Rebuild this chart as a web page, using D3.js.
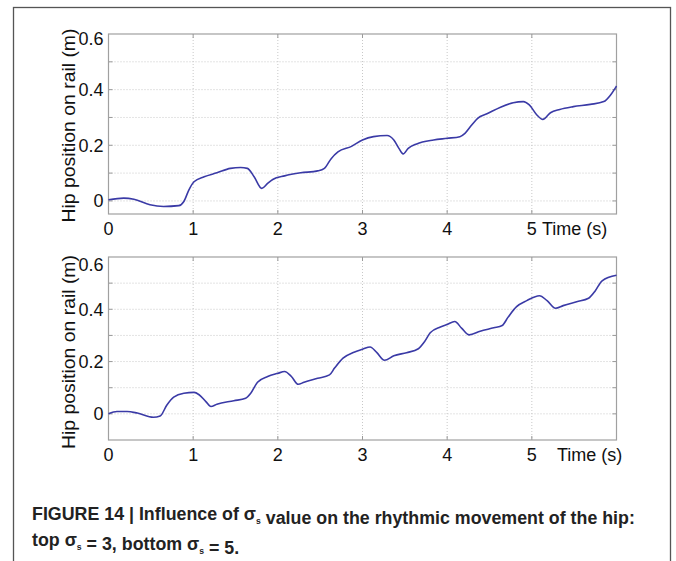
<!DOCTYPE html>
<html>
<head>
<meta charset="utf-8">
<script src="https://cdn.jsdelivr.net/npm/d3@7"></script>
<style>
  body { margin: 0; background: #fff; }
  svg { display: block; }
  text { font-family: Arial, "Liberation Sans", Helvetica, sans-serif; }
</style>
</head>
<body>
<svg id="chart" width="676" height="561"></svg>
<script>
// ---- data ----
const topTime = [0, 0.18, 0.3, 0.49, 0.65, 0.83, 0.89, 0.95, 1.01, 1.13, 1.28, 1.44, 1.56, 1.64, 1.72, 1.81, 1.88, 1.94, 2.08, 2.27, 2.47, 2.55, 2.63, 2.71, 2.87, 3.0, 3.13, 3.29, 3.37, 3.43, 3.48, 3.54, 3.64, 3.84, 4.0, 4.15, 4.21, 4.29, 4.36, 4.47, 4.63, 4.78, 4.90, 4.97, 5.06, 5.13, 5.22, 5.33, 5.49, 5.69, 5.85, 5.93, 6.0];
const topPos  = [0.004, 0.01, 0.006, -0.014, -0.02, -0.017, -0.002, 0.04, 0.069, 0.087, 0.101, 0.117, 0.12, 0.117, 0.087, 0.045, 0.063, 0.077, 0.09, 0.101, 0.108, 0.117, 0.152, 0.176, 0.196, 0.219, 0.231, 0.235, 0.219, 0.189, 0.169, 0.189, 0.205, 0.219, 0.225, 0.231, 0.243, 0.273, 0.297, 0.313, 0.337, 0.353, 0.357, 0.345, 0.309, 0.293, 0.317, 0.329, 0.339, 0.347, 0.357, 0.381, 0.413];
const botTime = [0, 0.1, 0.22, 0.34, 0.53, 0.61, 0.69, 0.77, 0.89, 1.01, 1.07, 1.15, 1.21, 1.28, 1.48, 1.62, 1.68, 1.76, 1.88, 2.0, 2.08, 2.16, 2.24, 2.31, 2.47, 2.61, 2.67, 2.77, 2.90, 3.0, 3.09, 3.17, 3.26, 3.37, 3.52, 3.66, 3.73, 3.80, 3.92, 4.0, 4.09, 4.17, 4.26, 4.39, 4.55, 4.65, 4.72, 4.82, 4.94, 5.09, 5.18, 5.28, 5.37, 5.53, 5.67, 5.75, 5.83, 6.0];
const botPos  = [0, 0.009, 0.009, 0.003, -0.013, -0.008, 0.034, 0.064, 0.079, 0.082, 0.073, 0.047, 0.028, 0.037, 0.05, 0.06, 0.079, 0.121, 0.143, 0.155, 0.162, 0.143, 0.113, 0.121, 0.136, 0.149, 0.175, 0.213, 0.236, 0.247, 0.256, 0.234, 0.205, 0.222, 0.234, 0.249, 0.275, 0.310, 0.332, 0.342, 0.353, 0.328, 0.302, 0.316, 0.329, 0.338, 0.370, 0.410, 0.433, 0.452, 0.433, 0.404, 0.414, 0.429, 0.442, 0.471, 0.509, 0.530];

const xTickValues = [0, 1, 2, 3, 4, 5];
const xTickLabels = ["0", "1", "2", "3", "4", "5"];
const yGridValues = [0, 0.1, 0.2, 0.3, 0.4, 0.5, 0.6];
const yTickValues = [0, 0.2, 0.4, 0.6];
const yTickLabels = ["0", "0.2", "0.4", "0.6"];
const yLabelText = "Hip position on rail (m)";
const xLabelText = "Time (s)";
const captionLine1 = [["FIGURE 14 | Influence of σ", false], ["s", true], [" value on the rhythmic movement of the hip:", false]];
const captionLine2 = [["top σ", false], ["s", true], [" = 3, bottom σ", false], ["s", true], [" = 5.", false]];

const svg = d3.select("#chart");

// outer frame
svg.append("rect")
  .attr("x", 13.5).attr("y", 7.5).attr("width", 657).attr("height", 600)
  .attr("fill", "none").attr("stroke", "#555").attr("stroke-width", 1.3);

function panel(opts) {
  const {left, right, top, bottom, yMin, time, pos, timeLabelX, topLabelDy, labelCenter} = opts;
  const x = d3.scaleLinear().domain([0, 6]).range([left, right]);
  const y = d3.scaleLinear().domain([yMin, 0.6]).range([bottom, top]);
  const g = svg.append("g");

  // grid
  g.selectAll(".vg").data(xTickValues.slice(1)).enter().append("line")
    .attr("x1", d => x(d)).attr("x2", d => x(d)).attr("y1", top).attr("y2", bottom)
    .attr("stroke", "#c8c8c8").attr("stroke-width", 1).attr("stroke-dasharray", "1,2");
  g.selectAll(".hg").data(yGridValues.filter(v => v < 0.6 && v > yMin)).enter().append("line")
    .attr("x1", left).attr("x2", right).attr("y1", d => y(d)).attr("y2", d => y(d))
    .attr("stroke", "#c8c8c8").attr("stroke-width", 1).attr("stroke-dasharray", "1,2");

  // inner ticks
  const tl = 4;
  xTickValues.slice(1).forEach(v => {
    g.append("line").attr("x1", x(v)).attr("x2", x(v)).attr("y1", bottom).attr("y2", bottom - tl).attr("stroke", "#999");
    g.append("line").attr("x1", x(v)).attr("x2", x(v)).attr("y1", top).attr("y2", top + tl).attr("stroke", "#999");
  });
  yGridValues.filter(v => v < 0.6 && v > yMin).forEach(v => {
    g.append("line").attr("x1", left).attr("x2", left + tl).attr("y1", y(v)).attr("y2", y(v)).attr("stroke", "#999");
    g.append("line").attr("x1", right).attr("x2", right - tl).attr("y1", y(v)).attr("y2", y(v)).attr("stroke", "#999");
  });

  // box
  g.append("rect").attr("x", left).attr("y", top).attr("width", right - left).attr("height", bottom - top)
    .attr("fill", "none").attr("stroke", "#a0a0a0").attr("stroke-width", 1.2);

  // line
  const data = time.map((t, i) => [t, pos[i]]);
  g.append("path").datum(data)
    .attr("d", d3.line().x(d => x(d[0])).y(d => y(d[1])).curve(d3.curveMonotoneX))
    .attr("fill", "none").attr("stroke", "#3a3aa6").attr("stroke-width", 1.6);

  // tick labels
  g.selectAll(".xl").data(xTickValues).enter().append("text")
    .attr("x", d => x(d)).attr("y", bottom + 21)
    .attr("text-anchor", "middle").attr("font-size", 18).attr("fill", "#111")
    .text((d, i) => xTickLabels[i]);
  g.selectAll(".yl").data(yTickValues).enter().append("text")
    .attr("x", left - 5).attr("y", d => y(d) + (d === 0.6 ? topLabelDy : 0))
    .attr("dy", "0.35em")
    .attr("text-anchor", "end").attr("font-size", 18).attr("fill", "#111")
    .text((d, i) => yTickLabels[i]);

  // axis labels
  g.append("text").attr("x", timeLabelX).attr("y", bottom + 21)
    .attr("font-size", 18).attr("fill", "#111").text(xLabelText);
  g.append("text")
    .attr("transform", `translate(75,${labelCenter}) rotate(-90)`)
    .attr("text-anchor", "middle").attr("font-size", 18.5).attr("fill", "#111")
    .attr("textLength", 194).attr("lengthAdjust", "spacingAndGlyphs")
    .text(yLabelText);
}

panel({left: 108.5, right: 616.5, top: 34, bottom: 214, yMin: -0.047, time: topTime, pos: topPos, timeLabelX: 542, topLabelDy: 5, labelCenter: 125.5});
panel({left: 108.5, right: 616.5, top: 257, bottom: 440, yMin: -0.1, time: botTime, pos: botPos, timeLabelX: 557, topLabelDy: 8, labelCenter: 352});

// caption
const cap = svg.append("g");
function capLine(parts, yBase) {
  const t = cap.append("text").attr("x", 0).attr("y", yBase)
    .attr("font-size", 18.5).attr("font-weight", "bold").attr("fill", "#222");
  parts.forEach(([s, sub]) => {
    if (sub) {
      t.append("tspan").attr("font-size", 9).attr("dy", 4).text(s);
      t.append("tspan").attr("dy", -4).text("");
    } else {
      t.append("tspan").text(s);
    }
  });
  return t;
}
const l1 = capLine(captionLine1, 520);
const l2 = capLine(captionLine2, 546);
const w = l1.node().getComputedTextLength();
const sc = 603 / w;
cap.attr("transform", `translate(32,0) scale(${sc},1)`);
</script>
</body>
</html>
